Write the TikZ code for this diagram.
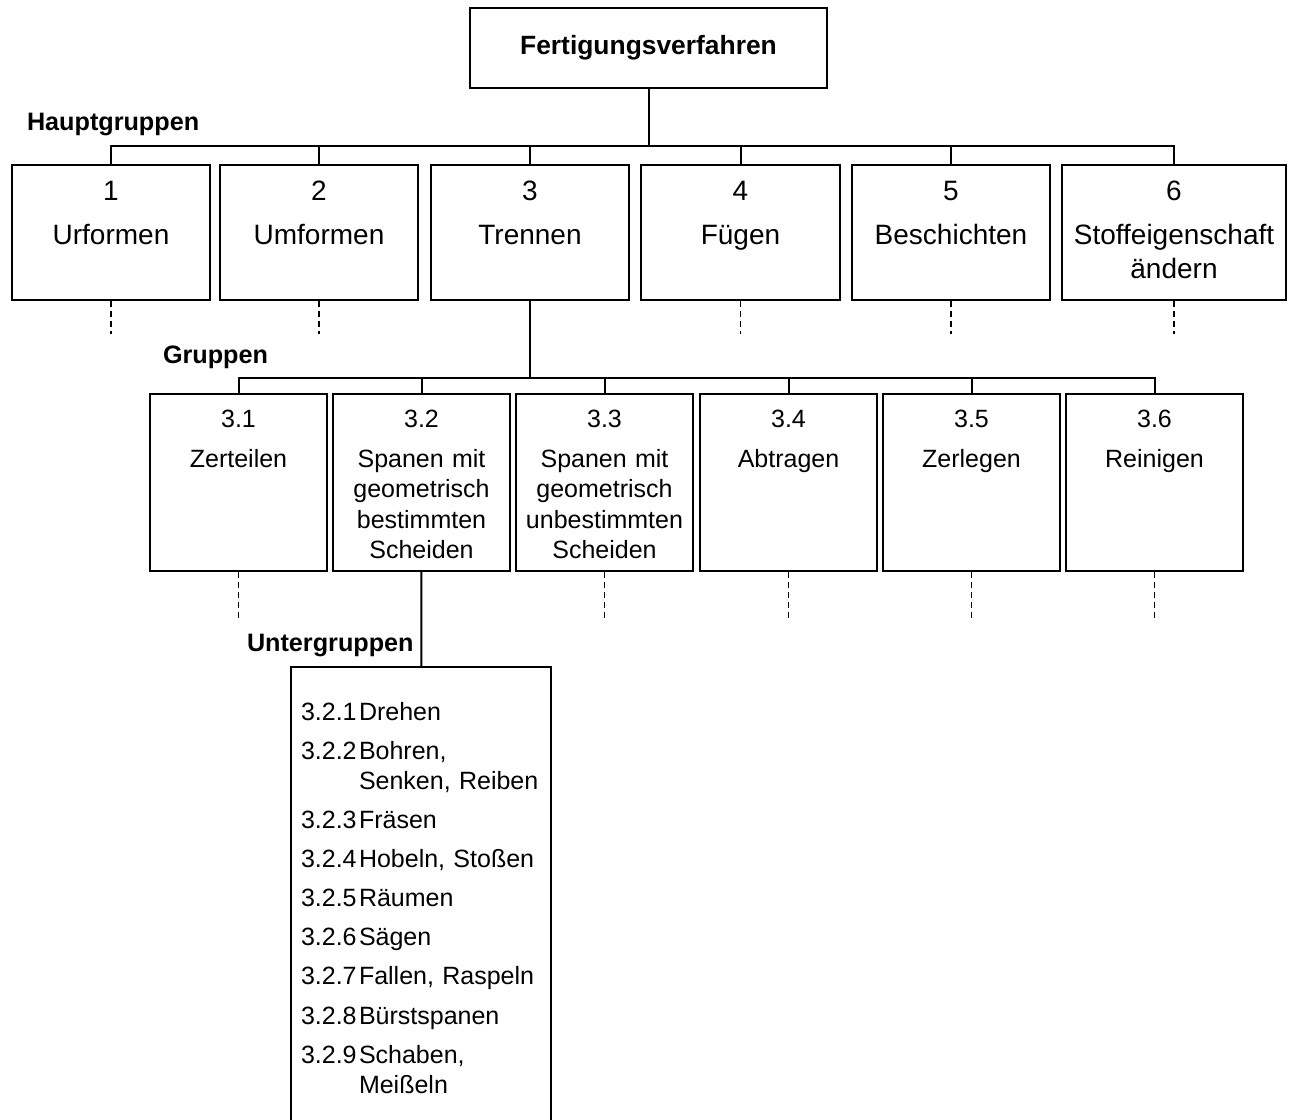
\documentclass[tikz,border=0pt]{standalone}
\usepackage{fontspec}
\setmainfont{Liberation Sans}

\tikzset{
    hauptbox/.style={draw, line width=1.3pt, minimum height=67.5pt, inner sep=0pt},
    gruppenbox/.style={draw, line width=1pt, minimum width=88.5pt, minimum height=88.5pt, inner sep=0pt},
    hauptlabel/.style={anchor=base, inner sep=0pt, text width=112pt, align=center, font=\fontsize{14}{17}\selectfont},
    gruppenlabel/.style={anchor=base, inner sep=0pt, text width=88pt, align=center, font=\fontsize{12.5}{15.25}\selectfont},
    ugnr/.style={anchor=base west, inner sep=0pt, font=\fontsize{12.5}{15}\selectfont},
    ugtext/.style={anchor=base west, inner sep=0pt, text width=95pt, align=left, font=\fontsize{12.5}{15}\selectfont},
    ebene/.style={anchor=base west, inner sep=0pt, font=\bfseries\fontsize{12.6}{15}\selectfont},
    weiter/.style={dash pattern=on 3pt off 2pt, line width=0.7pt},
}

\begin{document}
\begin{tikzpicture}[x=0.5pt, y=-0.5pt, line width=1pt]
    \useasboundingbox (0,0) rectangle (1289,1119);

    % Top
    \node[draw, line width=1.3pt, minimum width=178.5pt, minimum height=40pt,
          font=\bfseries\fontsize{13.2}{16}\selectfont] (fv) at (648.5,48) {Fertigungsverfahren};

    % Levels
    \node[ebene] (lhaupt) at (26,130) {Hauptgruppen};
    \node[ebene] (lgruppen) at (162,363) {Gruppen};
    \node[ebene] (lunter) at (246,651) {Untergruppen};

    % Hauptgruppen
    \foreach \n/\x/\w/\name in {1/111/99/Urformen, 2/319/99/Umformen, 3/530/99/Trennen,
        4/740.5/99.5/Fügen, 5/951/99/Beschichten, 6/1174/112/{Stoffeigenschaft\\ändern}} {
        \node[hauptbox, minimum width=\w pt] (h\n) at (\x,232.5) {};
        \node[hauptlabel] (ht\n) at (\x,200) {\n\\[5pt]\name};
    }
    \coordinate (hbus) at (648.5,146);
    \draw (fv) -- (hbus);
    \draw (h1.north) -- (h1.north |- hbus) -- (h6.north |- hbus) -- (h6.north);
    \foreach \n in {2,...,5} {
        \draw (h\n.north) -- (h\n.north |- hbus);
    }
    \foreach \n in {1,2,4,5,6} {
        \draw[weiter] (h\n.south) -- ++(0,33);
    }

    % Gruppen
    \foreach \n/\x/\name in {1/238.5/Zerteilen,
        2/421.5/{Spanen mit\\geometrisch\\bestimmten\\Scheiden},
        3/604.5/{Spanen mit\\geometrisch\\unbestimmten\\Scheiden},
        4/788.5/Abtragen, 5/971.5/Zerlegen, 6/1154.5/Reinigen} {
        \node[gruppenbox] (g\n) at (\x,482.5) {};
        \node[gruppenlabel] (gt\n) at (\x,427) {3.\n\\[4.75pt]\name};
    }
    \coordinate (gbus) at (530,378);
    \draw (h3) -- (gbus);
    \draw (g1.north) -- (g1.north |- gbus) -- (g6.north |- gbus) -- (g6.north);
    \foreach \n in {2,...,5} {
        \draw (g\n.north) -- (g\n.north |- gbus);
    }
    \foreach \n in {1,3,4,5,6} {
        \draw[weiter] (g\n.south) -- ++(0,47);
    }

    % Untergruppen (box runs off the bottom edge)
    \node[draw, minimum width=130pt, minimum height=236pt, inner sep=0pt] (ubox) at (421,903) {};
    \draw (g2) -- (ubox);
    \foreach \n/\y/\name in {1/720/Drehen, 2/759/{Bohren,\\Senken, Reiben}, 3/828/Fräsen,
        4/867/{Hobeln, Stoßen}, 5/906/Räumen, 6/945/Sägen, 7/984/{Fallen, Raspeln},
        8/1024/Bürstspanen, 9/1063/{Schaben,\\Meißeln}} {
        \node[ugnr] (un\n) at (300,\y) {3.2.\n};
        \node[ugtext] (ut\n) at (358,\y) {\name};
    }
\end{tikzpicture}
\end{document}
